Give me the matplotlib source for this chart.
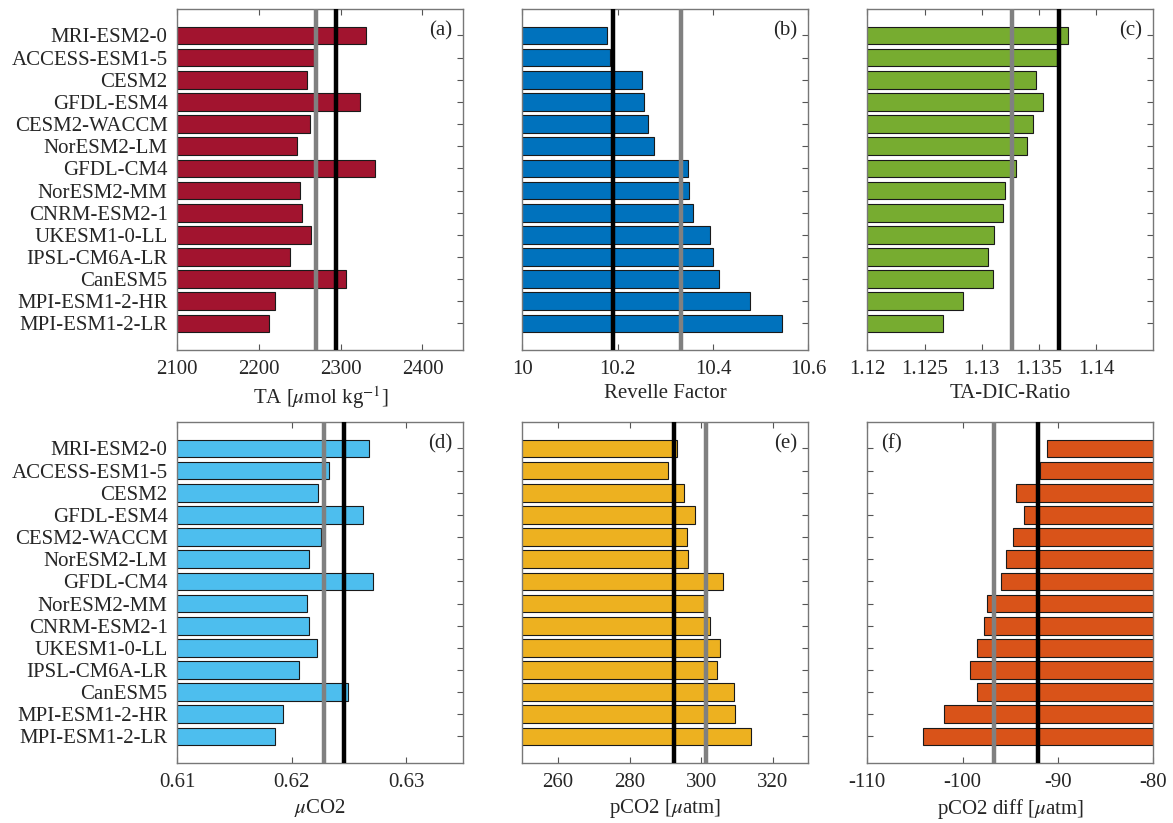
import numpy as np
import matplotlib
matplotlib.use('Agg')
import matplotlib.pyplot as plt

plt.rcParams['font.family'] = ['Liberation Serif', 'DejaVu Serif']
plt.rcParams['mathtext.fontset'] = 'stix'
plt.rcParams['font.size'] = 15

models = ['MRI-ESM2-0', 'ACCESS-ESM1-5', 'CESM2', 'GFDL-ESM4', 'CESM2-WACCM',
          'NorESM2-LM', 'GFDL-CM4', 'NorESM2-MM', 'CNRM-ESM2-1', 'UKESM1-0-LL',
          'IPSL-CM6A-LR', 'CanESM5', 'MPI-ESM1-2-HR', 'MPI-ESM1-2-LR']

ta = [2331, 2267, 2258.5, 2323.5, 2262.5, 2246, 2342, 2249.5, 2252.5, 2264,
      2237.5, 2306.5, 2220, 2212]
revelle = [10.178, 10.184, 10.252, 10.256, 10.263, 10.277, 10.348, 10.350,
           10.359, 10.393, 10.399, 10.412, 10.477, 10.544]
ta_dic = [1.13754, 1.13655, 1.13474, 1.13535, 1.13447, 1.13392, 1.13304, 1.13205,
          1.13184, 1.13105, 1.13056, 1.13099, 1.12836, 1.12661]
mu_co2 = [0.62678, 0.62323, 0.62233, 0.6262, 0.62253, 0.62148, 0.6271, 0.62136,
          0.62154, 0.62221, 0.62064, 0.62492, 0.61927, 0.61854]
pco2 = [293.4, 290.7, 295.1, 298.4, 296.2, 296.4, 306.1, 300.7, 302.5, 305.3,
        304.5, 309.2, 309.6, 313.9]
pco2_diff = [-91.15, -91.9, -94.44, -93.53, -94.72, -95.42, -96.01, -97.48,
             -97.76, -98.5, -99.27, -98.46, -101.96, -104.16]

# reference lines: (gray, black)
ref_lines = [(2270, 2294), (10.333, 10.191), (1.13269, 1.13675),
             (0.62279, 0.62457), (301.5, 292.4), (-96.68, -92.13)]

panels = [
    (ta, '#A2142F', r'TA [$\mu$mol kg$^{-1}$]', (2100, 2450), [2100, 2200, 2300, 2400], ['2100', '2200', '2300', '2400'], '(a)'),
    (revelle, '#0072BD', 'Revelle Factor', (10, 10.6), [10, 10.2, 10.4, 10.6], ['10', '10.2', '10.4', '10.6'], '(b)'),
    (ta_dic, '#77AC30', 'TA-DIC-Ratio', (1.12, 1.145), [1.12, 1.125, 1.13, 1.135, 1.14], ['1.12', '1.125', '1.13', '1.135', '1.14'], '(c)'),
    (mu_co2, '#4DBEEE', r'$\mu$CO2', (0.61, 0.635), [0.61, 0.62, 0.63], ['0.61', '0.62', '0.63'], '(d)'),
    (pco2, '#EDB120', r'pCO2 [$\mu$atm]', (250, 330), [260, 280, 300, 320], ['260', '280', '300', '320'], '(e)'),
    (pco2_diff, '#D95319', r'pCO2 diff [$\mu$atm]', (-110, -80), [-110, -100, -90, -80], ['-110', '-100', '-90', '-80'], '(f)'),
]

fig = plt.figure(figsize=(11.73, 8.23), dpi=100)
lefts = [0.1512, 0.4453, 0.7394]
bottoms = [0.5747, 0.0729]
w, h = 0.2438, 0.4145

ypos = np.arange(1, len(models) + 1)
txt = '#262626'
for i, (vals, col, xlab, xl, xt, xtl, tag) in enumerate(panels):
    r, c = divmod(i, 3)
    ax = fig.add_axes([lefts[c], bottoms[r], w, h])
    ax.barh(ypos, vals, height=0.8, color=col, edgecolor='#1a1a1a', linewidth=0.8, zorder=2)
    g, b = ref_lines[i]
    ax.axvline(g, color='#808080', lw=3.2, zorder=3)
    ax.axvline(b, color='black', lw=3.2, zorder=4)
    ax.set_xlim(xl)
    ax.set_ylim(15.2, -0.2)
    ax.set_xticks(xt)
    ax.set_xticklabels(xtl)
    ax.set_yticks(ypos)
    if c == 0:
        ax.set_yticklabels(models)
    else:
        ax.set_yticklabels([])
    ax.tick_params(direction='in', top=True, right=True, length=4, width=0.8,
                   color='#555555', labelcolor=txt, pad=7)
    for s in ax.spines.values():
        s.set_color('#777777')
        s.set_linewidth(1.0)
    ax.set_xlabel(xlab, color=txt, labelpad=4)
    if tag == '(f)':
        ax.text(0.05, 0.965, tag, transform=ax.transAxes, ha='left', va='top', color=txt)
    else:
        ax.text(0.96, 0.965, tag, transform=ax.transAxes, ha='right', va='top', color=txt)

plt.savefig('out.png', dpi=100)
